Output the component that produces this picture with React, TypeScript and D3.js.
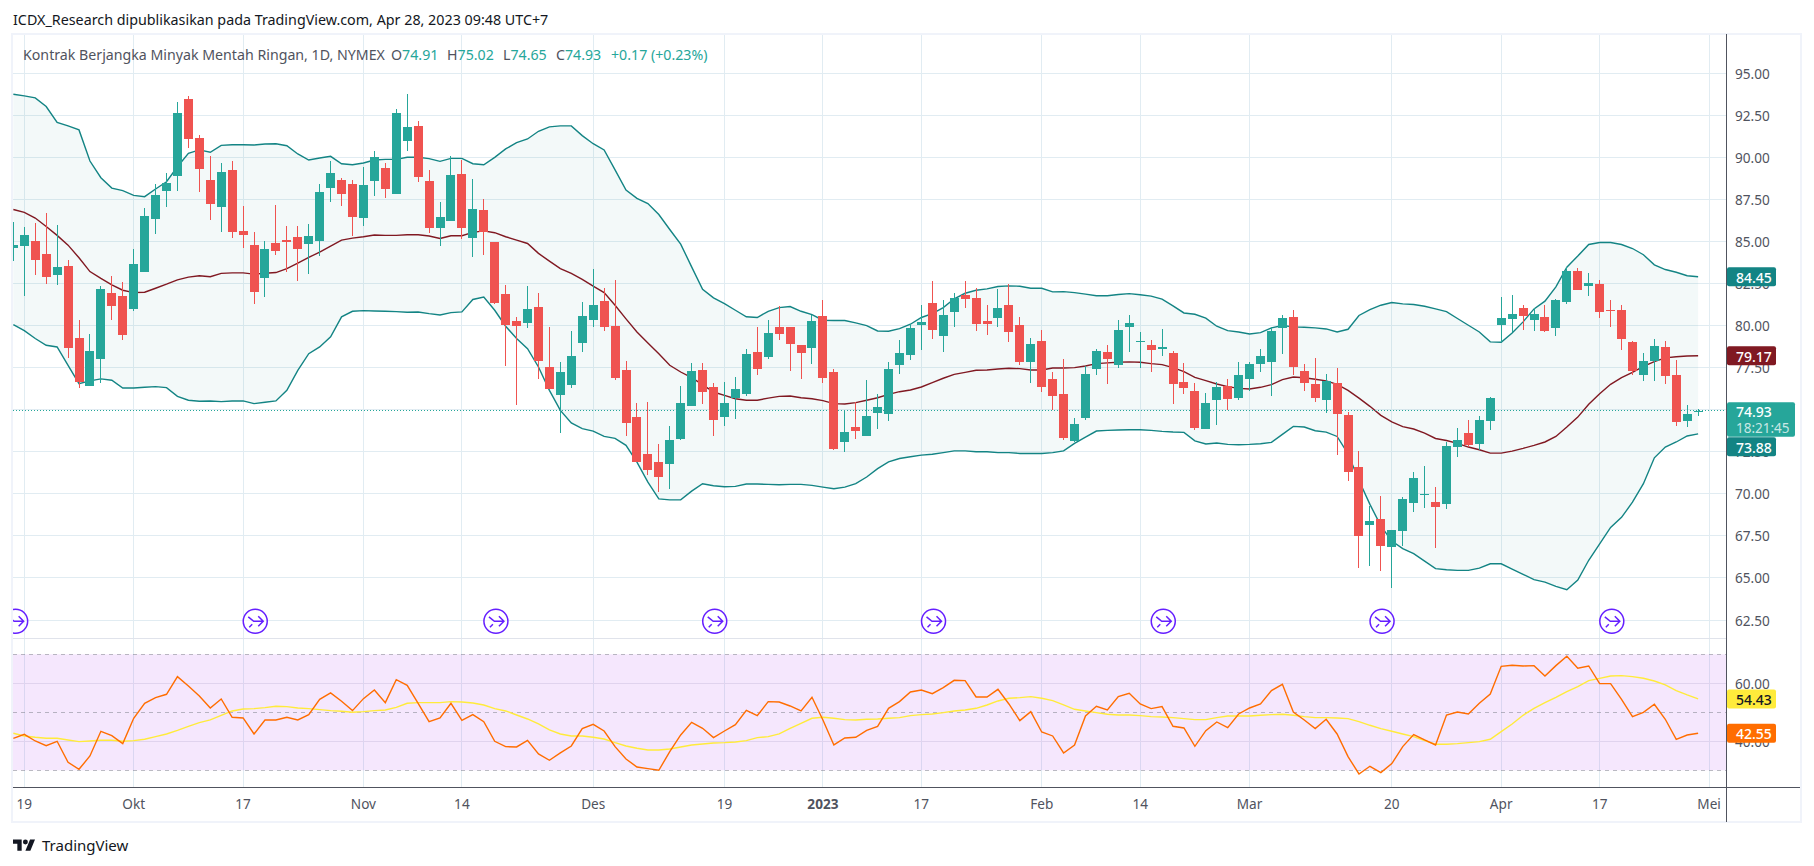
import React from 'react';
import * as d3 from 'd3';

// candles, one per trading day, 16 Sep 2022 .. 28 Apr 2023
const opens = [
  84.62,84.74,85.02,84.25,83.02,83.53,79.25,76.41,78.0,81.92,
  81.75,80.97,83.17,86.33,88.0,88.89,93.47,91.15,88.65,87.04,
  89.25,85.62,84.78,82.82,84.9,85.08,85.26,84.84,85.02,88.17,
  88.65,88.41,86.39,88.59,89.37,87.82,90.97,91.87,88.59,85.79,
  86.21,89.01,85.2,86.87,84.96,81.87,80.26,80.14,81.09,77.52,
  75.85,76.45,78.95,80.32,81.45,79.96,77.34,74.54,72.34,71.87,
  71.75,73.23,75.2,77.34,76.33,74.54,75.67,75.91,78.41,78.11,
  79.9,79.9,78.83,78.65,80.56,77.22,73.09,73.95,73.41,74.78,
  74.72,77.64,78.23,80.02,81.33,79.37,80.79,81.81,81.63,80.26,
  80.44,81.21,80.02,77.82,79.07,76.81,75.91,73.16,74.48,77.4,
  78.41,77.64,79.9,79.01,78.83,78.59,78.35,76.63,76.09,73.83,
  75.56,76.39,75.68,76.81,77.7,77.82,79.84,80.5,77.28,76.51,
  75.56,76.57,74.66,71.57,68.12,68.48,66.82,67.77,69.44,69.91,
  69.49,69.37,72.76,73.6,72.95,74.3,80.02,80.38,81.03,80.32,
  80.5,79.84,81.39,83.23,82.34,82.46,80.93,80.93,79.01,77.04,
  77.88,78.71,77.04,74.3,74.91,
];
const highs = [
  86.15,85.85,86.09,86.67,85.97,83.87,80.32,79.48,82.34,82.94,
  82.58,84.54,86.98,88.41,89.07,93.29,93.65,91.33,90.08,89.66,
  89.76,87.1,85.56,85.02,87.16,85.91,85.91,86.03,88.41,89.78,
  88.77,88.65,89.42,90.38,89.66,92.88,93.77,92.16,89.25,87.34,
  90.08,89.84,88.71,87.52,84.96,82.4,80.5,82.34,81.92,79.9,
  77.82,79.66,81.39,83.35,82.22,82.7,77.88,75.38,75.44,72.94,
  74.01,76.39,77.76,77.76,76.57,76.63,76.92,78.59,79.9,80.32,
  81.15,79.9,78.83,80.61,81.51,77.4,74.9,75.44,76.75,75.91,
  77.82,79.13,80.08,81.21,82.64,81.51,81.92,82.64,82.22,81.21,
  82.16,82.46,80.5,79.25,79.72,77.22,77.99,74.48,77.58,78.59,
  78.83,80.32,80.61,79.6,79.13,79.78,78.47,77.76,76.57,75.97,
  76.63,76.81,77.82,77.82,78.59,79.9,80.61,80.91,77.7,78.05,
  77.1,77.46,74.84,72.52,69.3,69.87,67.85,69.8,71.28,71.63,
  70.39,73.1,73.9,74.36,74.6,75.74,81.69,81.81,81.21,81.03,
  81.21,81.57,83.47,83.41,83.12,82.7,81.51,81.21,79.07,78.35,
  79.19,79.07,77.94,75.26,75.02,
];
const lows = [
  83.85,81.77,83.02,82.48,82.42,78.08,76.29,76.41,76.59,80.32,
  79.13,80.85,83.17,85.44,87.04,87.99,90.56,87.94,86.27,85.56,
  85.2,84.6,81.27,81.69,84.19,83.17,82.66,83.06,84.13,87.34,
  87.1,85.32,85.91,87.7,87.58,87.82,90.38,88.53,85.5,84.72,
  86.19,85.14,84.07,84.19,81.27,77.58,75.26,79.84,76.81,76.21,
  73.59,76.27,78.41,79.9,79.66,76.75,73.41,71.92,71.09,70.08,
  70.26,73.17,75.2,75.32,73.41,74.01,74.42,75.79,77.04,78.0,
  79.13,77.28,76.81,77.7,76.57,72.6,72.47,73.23,73.41,73.83,
  74.3,77.1,77.94,78.53,79.19,78.41,79.9,81.03,79.66,79.42,
  79.9,79.01,77.64,76.57,76.03,74.96,73.17,73.1,74.37,77.04,
  76.51,77.46,78.41,77.46,77.22,78.17,75.32,75.91,73.77,73.83,
  74.07,74.96,75.56,76.09,77.22,75.79,78.29,77.04,76.09,75.44,
  74.78,72.28,70.79,65.62,65.68,65.39,64.4,66.88,68.9,69.14,
  66.76,69.1,72.18,72.76,72.6,73.77,79.0,79.6,79.72,79.66,
  79.6,79.36,81.27,82.1,81.75,80.44,79.9,78.53,77.04,76.69,
  76.69,76.51,74.06,74.0,74.65,
];
const closes = [
  84.78,85.38,83.91,82.9,83.47,78.67,76.63,78.47,82.16,81.15,
  79.42,83.65,86.51,87.76,88.47,92.64,91.09,89.31,87.22,89.13,
  85.56,85.38,81.98,84.54,84.42,84.96,84.54,85.32,87.94,89.07,
  87.82,86.45,88.35,90.02,88.12,92.64,91.81,88.83,85.79,86.45,
  88.95,85.79,86.92,85.56,81.33,80.02,79.96,80.97,77.88,76.21,
  77.22,78.17,80.56,81.21,79.9,76.87,74.19,71.92,71.39,70.97,
  73.17,75.38,77.28,76.03,74.37,75.38,76.21,78.29,77.4,79.54,
  79.48,78.89,78.35,80.26,76.87,72.68,73.65,73.71,74.6,75.14,
  77.4,78.35,79.84,80.2,79.72,80.62,81.63,81.57,80.08,80.08,
  81.03,79.6,77.82,78.89,76.33,75.79,73.29,74.13,77.1,78.47,
  78.0,79.72,80.14,79.07,78.53,78.71,76.51,76.27,73.89,75.38,
  76.33,75.62,77.04,77.7,78.17,79.66,80.44,77.52,76.57,75.68,
  76.69,74.72,71.27,67.5,68.36,66.88,67.82,69.68,70.92,69.97,
  69.2,72.83,73.18,72.88,74.36,75.68,80.44,80.67,80.56,80.67,
  79.66,81.51,83.23,82.1,82.52,80.79,80.85,79.19,77.28,77.88,
  78.77,76.98,74.24,74.72,74.93,
];

// bollinger bands
const bbUpper = [
  93.75,93.65,93.53,93.02,92.08,91.87,91.63,89.78,88.79,88.17,
  88.02,87.74,87.66,88.12,88.55,89.44,90.24,90.44,90.3,90.71,
  90.75,90.75,90.73,90.79,90.81,90.69,90.2,89.84,89.96,90.06,
  89.62,89.56,89.66,89.84,89.88,89.88,90.0,90.0,89.92,89.76,
  89.94,89.94,89.62,89.56,90.0,90.5,90.87,91.09,91.55,91.81,
  91.87,91.87,91.29,90.81,90.44,89.25,88.06,87.56,87.25,86.6,
  85.71,84.84,83.49,82.16,81.65,81.31,80.91,80.52,80.48,80.85,
  81.07,81.13,80.85,80.65,80.32,80.3,80.3,80.16,80.0,79.68,
  79.66,79.82,80.08,80.48,80.71,81.07,81.59,81.92,82.1,82.18,
  82.32,82.36,82.34,82.22,82.22,82.0,82.02,81.96,81.87,81.77,
  81.77,81.85,81.9,81.83,81.75,81.57,81.17,80.75,80.67,80.44,
  79.96,79.7,79.62,79.5,79.58,79.86,80.0,79.92,79.9,79.86,
  79.8,79.62,79.78,80.6,80.95,81.21,81.37,81.29,81.25,81.15,
  80.99,80.83,80.42,80.02,79.62,79.03,79.01,79.56,80.22,80.99,
  81.45,82.3,83.47,84.13,84.82,84.94,84.94,84.82,84.58,84.21,
  83.61,83.33,83.17,82.96,82.9,
];
const bbBasis = [
  86.9,86.73,86.39,85.89,85.36,84.78,84.03,83.21,82.8,82.42,
  82.1,81.96,81.98,82.22,82.46,82.72,82.88,82.96,82.9,83.1,
  83.13,83.13,83.06,83.11,83.15,83.39,83.71,84.05,84.37,84.72,
  85.08,85.2,85.28,85.38,85.36,85.36,85.4,85.4,85.32,85.18,
  85.34,85.34,85.54,85.63,85.52,85.28,85.08,84.88,84.29,83.83,
  83.39,83.1,82.74,82.34,81.96,81.21,80.4,79.62,78.97,78.33,
  77.64,77.24,76.9,76.49,76.05,75.85,75.65,75.56,75.56,75.69,
  75.79,75.81,75.71,75.65,75.54,75.36,75.34,75.42,75.56,75.71,
  75.91,76.07,76.17,76.35,76.61,76.87,77.1,77.22,77.34,77.36,
  77.42,77.46,77.44,77.36,77.36,77.48,77.48,77.5,77.6,77.74,
  77.78,77.82,77.84,77.82,77.74,77.68,77.5,77.26,76.92,76.73,
  76.53,76.37,76.27,76.23,76.33,76.49,76.79,76.94,76.9,76.81,
  76.71,76.51,76.15,75.69,75.2,74.66,74.27,73.99,73.85,73.61,
  73.29,73.17,73.0,72.78,72.62,72.42,72.42,72.54,72.7,72.88,
  73.08,73.41,73.97,74.56,75.32,75.95,76.51,76.9,77.22,77.58,
  77.86,78.08,78.15,78.19,78.21,
];
const bbLower = [
  80.06,79.7,79.23,78.83,78.73,77.64,76.55,76.71,76.83,76.75,
  76.29,76.29,76.33,76.37,76.31,75.79,75.56,75.5,75.52,75.48,
  75.52,75.52,75.36,75.44,75.52,76.15,77.34,78.33,78.73,79.33,
  80.52,80.85,80.89,80.87,80.85,80.83,80.79,80.81,80.71,80.63,
  80.77,80.81,81.55,81.69,80.91,79.96,79.23,78.63,77.54,76.15,
  74.96,74.21,73.87,73.73,73.41,73.3,72.88,71.88,70.69,69.7,
  69.64,69.64,70.16,70.6,70.48,70.42,70.44,70.58,70.58,70.56,
  70.54,70.56,70.56,70.5,70.4,70.3,70.4,70.6,71.0,71.5,
  71.9,72.1,72.2,72.3,72.35,72.45,72.55,72.55,72.5,72.5,
  72.45,72.45,72.4,72.4,72.4,72.45,72.55,73.0,73.37,73.73,
  73.77,73.79,73.81,73.81,73.77,73.71,73.67,73.65,73.15,72.96,
  73.02,72.94,72.92,72.94,72.98,73.06,73.53,74.01,73.97,73.75,
  73.67,73.41,72.38,70.79,69.37,68.1,67.19,66.74,66.44,66.0,
  65.55,65.49,65.45,65.45,65.58,65.84,65.84,65.53,65.21,64.9,
  64.75,64.5,64.3,64.87,66.05,67.02,68.0,68.6,69.5,70.6,
  72.14,72.78,73.08,73.44,73.56,
];

// rsi pane
const rsiValues = [
  41.03,42.41,40.11,38.51,40.0,32.76,30.34,34.94,43.45,41.95,
  39.2,47.93,53.1,55.06,56.21,62.3,59.08,55.63,51.49,54.6,
  48.28,48.05,42.53,47.36,47.36,48.28,47.36,49.2,54.48,56.67,
  53.79,50.57,54.71,57.7,53.33,61.26,59.31,53.1,46.78,48.05,
  53.1,47.24,49.2,46.78,40.0,38.16,38.05,40.34,35.63,33.45,
  35.98,38.39,44.37,45.86,43.56,38.16,33.91,31.15,30.57,30.0,
  36.44,42.18,46.55,44.48,41.26,43.56,45.75,50.69,48.85,53.68,
  53.56,52.18,50.46,55.17,47.36,38.74,41.15,41.38,43.79,45.17,
  51.38,53.68,57.01,57.7,56.44,58.51,61.03,60.92,55.29,55.29,
  57.93,52.87,47.13,50.23,43.22,41.84,35.98,38.74,48.74,52.07,
  50.8,55.4,56.55,52.87,51.26,51.95,45.17,44.6,38.28,43.68,
  46.67,44.71,49.43,51.49,52.87,57.47,59.66,50.11,47.36,44.37,
  47.59,42.53,34.71,28.74,31.38,29.2,32.3,38.16,42.3,40.46,
  38.74,49.08,50.11,49.43,53.1,56.32,65.86,66.21,65.98,66.09,
  62.53,66.09,69.31,65.17,65.98,59.89,59.89,54.48,48.51,50.0,
  52.76,47.59,40.69,42.18,42.76,
];
const rsiMa = [
  42.76,41.84,41.38,41.03,41.03,40.46,39.89,40.11,40.34,40.34,
  40.0,40.23,40.69,41.61,42.53,43.79,45.17,46.44,47.36,48.97,
  50.46,51.15,51.26,51.61,52.07,51.95,51.49,51.26,50.92,50.57,
  50.34,50.0,50.23,50.57,50.8,51.72,53.1,53.33,53.33,53.33,
  53.68,53.56,53.22,52.53,51.26,50.46,49.08,47.7,45.98,43.91,
  42.53,41.84,41.84,41.38,40.8,39.54,38.39,37.59,37.01,37.01,
  37.36,38.05,38.74,39.08,39.43,39.54,39.77,40.23,41.26,41.61,
  42.53,44.48,46.21,47.93,48.28,47.93,47.47,47.36,47.59,47.7,
  47.93,48.16,48.85,49.2,49.43,49.89,50.46,50.8,51.38,52.53,
  53.91,54.83,55.06,55.4,54.83,54.02,52.53,51.03,50.46,49.89,
  49.31,49.08,49.08,48.85,48.51,48.39,48.16,47.82,47.47,47.47,
  48.16,48.74,48.74,48.74,48.97,49.2,49.31,48.97,48.51,48.16,
  48.16,48.05,47.82,46.78,45.52,44.37,43.45,42.53,41.61,40.23,
  38.97,38.97,39.2,39.54,39.89,40.69,43.33,45.98,48.97,51.38,
  53.33,55.17,57.13,58.85,60.92,61.72,62.53,62.64,62.3,61.72,
  60.8,59.43,57.47,55.98,54.6,
];

const priceTicks = [95, 92.5, 90, 87.5, 85, 82.5, 80, 77.5, 75, 72.5, 70, 67.5, 65, 62.5];
const rsiTicks = [60, 40];
const rsiDashed = [70, 50, 30];
const timeTickBars = [1, 11, 21, 32, 41, 53, 65, 74, 83, 94, 103, 113, 126, 136, 145, 155];
const timeTickLabels = ['19', 'Okt', '17', 'Nov', '14', 'Des', '19', '2023', '17', 'Feb', '14', 'Mar', '20', 'Apr', '17', 'Mei'];
const eventBars = [0.1, 22, 44, 64, 84, 105, 125, 146];

const UP = '#26A69A';
const DOWN = '#EF5350';
const BAND = '#138484';
const BASIS = '#801922';
const GRID = '#E1ECF2';
const AXIS_TEXT = '#50535E';
const FONT = '"Noto Sans", "Open Sans", sans-serif';

const width = 1814;
const height = 866;
const left = 13;
const right = 1727;
const paneBottom = 638;
const axisBottom = 787;

const x = d3.scaleLinear().domain([0, 155]).range([13.36, 1709.06]);
const y = d3.scaleLinear().domain([62.5, 95]).range([620, 73.2]);
const yRsi = d3.scaleLinear().domain([30, 70]).range([770.3, 654.3]);

const snap = (v: number) => Math.floor(v) + 0.5;
const bars = d3.range(closes.length);

const App: React.FC = () => {
  const bandLine = (values: number[]) =>
    d3.line<number>().x(i => x(i)).y(i => y(values[i]))(bars) || '';
  const rsiLine = (values: number[]) =>
    d3.line<number>().x(i => x(i)).y(i => yRsi(values[i]))(bars) || '';
  const bandArea = d3.area<number>().x(i => x(i)).y0(i => y(bbLower[i])).y1(i => y(bbUpper[i]))(bars) || '';

  const last = bars.length - 1;
  const lastY = y(closes[last]);

  // price tags on the right axis
  const tag = (cy: number, fill: string, text: string, color = '#fff', w = 49) => (
    <g key={text}>
      <rect x={right} y={cy - 9.5} width={w} height={19} rx={2} fill={fill} />
      <text x={right + 9} y={cy + 0.5} fontSize={14} fontWeight={500} fill={color} dominantBaseline="central">{text}</text>
    </g>
  );

  return (
    <svg width={width} height={height} style={{ position: 'absolute', left: 0, top: 0, background: '#fff' }} fontFamily={FONT}>
      <defs>
        <clipPath id="main"><rect x={left} y={34} width={right - left} height={paneBottom - 34} /></clipPath>
      </defs>

      <text x={13} y={25} fontSize={14.3} fill="#131722">ICDX_Research dipublikasikan pada TradingView.com, Apr 28, 2023 09:48 UTC+7</text>
      <rect x={12} y={34} width={1789} height={788} fill="none" stroke="#F0F3FA" strokeWidth={2} />

      {/* grid */}
      <g stroke={GRID} strokeWidth={1} shapeRendering="crispEdges">
        {priceTicks.map(t => <line key={t} x1={left} x2={right} y1={snap(y(t))} y2={snap(y(t))} />)}
        {timeTickBars.map(b => <line key={b} x1={snap(x(b))} x2={snap(x(b))} y1={35} y2={axisBottom} />)}
      </g>
      <line x1={left} x2={right} y1={snap(paneBottom)} y2={snap(paneBottom)} stroke="#E0E3EB" shapeRendering="crispEdges" />

      {/* bollinger */}
      <g clipPath="url(#main)">
        <path d={bandArea} fill={BAND} fillOpacity={0.05} />
        <path d={bandLine(bbUpper)} fill="none" stroke={BAND} strokeWidth={1.4} />
        <path d={bandLine(bbLower)} fill="none" stroke={BAND} strokeWidth={1.4} />
        <path d={bandLine(bbBasis)} fill="none" stroke={BASIS} strokeWidth={1.4} />
        <line x1={left} x2={right} y1={snap(lastY)} y2={snap(lastY)} stroke={UP} strokeDasharray="1 2" />

        {/* candles */}
        {bars.map(i => {
          const cx = snap(x(i));
          const color = closes[i] >= opens[i] ? UP : DOWN;
          const top = y(Math.max(opens[i], closes[i]));
          const bottom = y(Math.min(opens[i], closes[i]));
          return (
            <g key={i} shapeRendering="crispEdges" fill={color}>
              <rect x={cx - 0.5} y={y(highs[i])} width={1} height={y(lows[i]) - y(highs[i])} />
              <rect x={cx - 4.5} y={top} width={9} height={Math.max(1, bottom - top)} />
            </g>
          );
        })}

        {/* contract roll markers */}
        {eventBars.map(b => (
          <g key={b} transform={`translate(${x(b) + 1.2},621.3)`} fill="none" stroke="#651FFF" strokeWidth={1.5}>
            <circle r={12} fill="#fff" fillOpacity={0.6} />
            <path d="M-7,-4.5 L-1.5,0 L8,0 M3,-5 L8,0 L3,5 M-6,6 L-3,3" />
          </g>
        ))}
      </g>

      {/* rsi pane */}
      <rect x={left} y={yRsi(70)} width={right - left} height={yRsi(30) - yRsi(70)} fill="#9B0FE8" fillOpacity={0.1} />
      <g stroke="#E0D3EE" shapeRendering="crispEdges">
        {rsiTicks.map(t => <line key={t} x1={left} x2={right} y1={snap(yRsi(t))} y2={snap(yRsi(t))} />)}
      </g>
      <g stroke="#787B86" strokeOpacity={0.5} strokeDasharray="4 4" shapeRendering="crispEdges">
        {rsiDashed.map(t => <line key={t} x1={left} x2={right} y1={snap(yRsi(t))} y2={snap(yRsi(t))} />)}
      </g>
      <path d={rsiLine(rsiMa)} fill="none" stroke="#FFEB3B" strokeWidth={1.4} />
      <path d={rsiLine(rsiValues)} fill="none" stroke="#FF6D00" strokeWidth={1.4} />

      {/* legend */}
      <text y={54} fontSize={14.2} dominantBaseline="central" fill={AXIS_TEXT}>
        <tspan x={23}>Kontrak Berjangka Minyak Mentah Ringan, 1D, NYMEX</tspan>
        <tspan x={391}>O</tspan><tspan fill={UP}>{opens[last]}</tspan>
        <tspan x={447}>H</tspan><tspan fill={UP}>{highs[last]}</tspan>
        <tspan x={503}>L</tspan><tspan fill={UP}>{lows[last]}</tspan>
        <tspan x={556}>C</tspan><tspan fill={UP}>{closes[last]}</tspan>
        <tspan x={611} fill={UP}>+0.17 (+0.23%)</tspan>
      </text>

      {/* axes */}
      <line x1={snap(right - 1)} x2={snap(right - 1)} y1={34} y2={822} stroke={AXIS_TEXT} shapeRendering="crispEdges" />
      <line x1={left} x2={1800} y1={snap(axisBottom)} y2={snap(axisBottom)} stroke={AXIS_TEXT} shapeRendering="crispEdges" />
      <g fontSize={13.6} fill={AXIS_TEXT} dominantBaseline="central">
        {priceTicks.map(t => <text key={t} x={1735} y={y(t)}>{t.toFixed(2)}</text>)}
        {rsiTicks.map(t => <text key={t} x={1735} y={yRsi(t)}>{t.toFixed(2)}</text>)}
      </g>
      <g fontSize={13.6} fill={AXIS_TEXT} textAnchor="middle">
        {timeTickBars.map((b, i) => (
          <text key={b} x={x(b)} y={809} fontWeight={timeTickLabels[i] === '2023' ? 700 : 400}>{timeTickLabels[i]}</text>
        ))}
      </g>

      {/* end-of-series tags */}
      {tag(y(bbUpper[last]), BAND, '84.45')}
      {tag(y(bbBasis[last]), BASIS, '79.17')}
      <rect x={right} y={lastY - 8.5} width={68} height={34.5} rx={2} fill={UP} />
      <text x={right + 9} y={lastY + 1} fontSize={14} fontWeight={500} fill="#fff" dominantBaseline="central">{closes[last]}</text>
      <text x={right + 9} y={lastY + 17} fontSize={13.5} fill="#fff" fillOpacity={0.75} dominantBaseline="central">18:21:45</text>
      {tag(lastY + 35.8, BAND, '73.88')}
      {tag(yRsi(rsiMa[last]), '#FFEB3B', '54.43', '#131722')}
      {tag(yRsi(rsiValues[last]), '#FF6D00', '42.55')}

      {/* logo */}
      <g transform="translate(13,837) scale(0.62)" fill="#131722">
        <path d="M14 22H7V11H0V4h14v18zM28 22h-8l7.5-18h8L28 22z" />
        <circle cx={20} cy={8} r={4} />
      </g>
      <text x={42} y={851} fontSize={15} fill="#131722">TradingView</text>
    </svg>
  );
};

export default App;
